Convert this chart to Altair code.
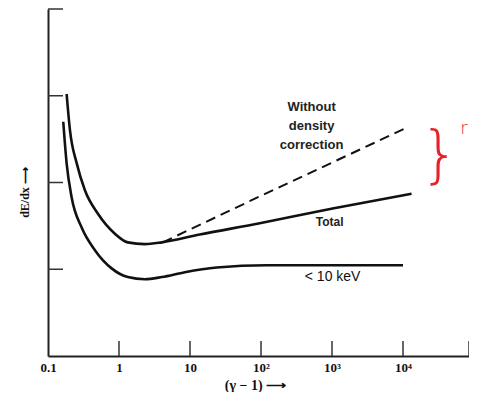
import altair as alt
import pandas as pd

# ---- data ----
total_x = [0.183, 0.204, 0.254, 0.331, 0.505, 0.875, 1.33, 2.31, 4.01, 13.7, 96, 1020, 13200]
total_y = [3.02, 2.60, 2.22, 1.91, 1.64, 1.41, 1.31, 1.29, 1.31, 1.40, 1.53, 1.70, 1.87]

low_x = [0.164, 0.183, 0.215, 0.298, 0.458, 0.787, 1.33, 2.31, 4.01, 8.45, 23.8, 120, 10000]
low_y = [2.70, 2.22, 1.83, 1.48, 1.22, 1.01, 0.91, 0.885, 0.91, 0.966, 1.02, 1.046, 1.046]

nodens_x = [4.14, 96, 10500]
nodens_y = [1.31, 1.84, 2.62]

x_max = 85000
x_tick_values = [0.1, 1, 10, 100, 1000, 10000]
x_tick_labels = ["0.1", "1", "10", "10²", "10³", "10⁴"]
x_inner_ticks = [1, 10, 100, 1000, 10000, x_max]
y_inner_ticks = [1, 2, 3, 4]

label_nodens = ["Without", "density", "correction"]
label_total = "Total"
label_low = "< 10 keV"

W, H = 421, 347

# ---- frames ----
df_total = pd.DataFrame({"x": total_x, "y": total_y})
df_low = pd.DataFrame({"x": low_x, "y": low_y})
df_nodens = pd.DataFrame({"x": nodens_x, "y": nodens_y})
df_xt = pd.DataFrame({"x": x_inner_ticks})
df_yt = pd.DataFrame({"y": y_inner_ticks})

expr = "''"
for v, lab in reversed(list(zip(x_tick_values, x_tick_labels))):
    expr = f"abs(datum.value - {v}) < {v}*0.01 ? '{lab}' : ({expr})"

X = alt.X(
    "x:Q",
    scale=alt.Scale(type="log", domain=[0.1, x_max], nice=False),
    axis=alt.Axis(
        values=x_tick_values,
        labelExpr=expr,
        ticks=False,
        grid=False,
        domainColor="#222",
        domainWidth=2,
        labelFont="Liberation Serif",
        labelFontWeight="bold",
        labelFontSize=13,
        labelColor="#111",
        labelPadding=5,
        labelFlush=False,
        labelOverlap=False,
        title="(γ − 1) ⟶",
        titleFont="Liberation Serif",
        titleFontSize=14,
        titleFontWeight="bold",
        titleColor="#111",
        titleX=207,
        titleY=29,
        titleAlign="center",
        titleBaseline="middle",
    ),
)
Y = alt.Y(
    "y:Q",
    scale=alt.Scale(domain=[0, 4], nice=False),
    axis=alt.Axis(
        labels=False,
        ticks=False,
        grid=False,
        domainColor="#222",
        domainWidth=2,
        title="dE/dx ⟶",
        titleFont="Liberation Serif",
        titleFontSize=12,
        titleFontWeight="bold",
        titleColor="#111",
        titleX=-24,
        titleY=183,
        titleAlign="center",
        titleBaseline="middle",
        titleAngle=270,
    ),
)

total = alt.Chart(df_total).mark_line(color="#111", strokeWidth=2.6, interpolate="monotone").encode(x=X, y=Y)
low = alt.Chart(df_low).mark_line(color="#111", strokeWidth=2.6, interpolate="monotone").encode(x=X, y=Y)
nodens = alt.Chart(df_nodens).mark_line(color="#111", strokeWidth=2, strokeDash=[10, 6]).encode(x=X, y=Y)

xt = alt.Chart(df_xt).mark_rule(color="#333", strokeWidth=1.5).encode(
    x=X, y=alt.value(H), y2=alt.value(H - 15)
)
yt = alt.Chart(df_yt).mark_rule(color="#333", strokeWidth=1.5).encode(
    y=Y, x=alt.value(0), x2=alt.value(15)
)

df_t1 = pd.DataFrame({"x": [516], "y": [2.874], "t": [label_nodens]})
t1 = alt.Chart(df_t1).mark_text(
    font="Liberation Sans", fontSize=13, fontWeight="bold", color="#222",
    lineHeight=19, align="center", baseline="middle"
).encode(x=X, y=Y, text="t")

df_t2 = pd.DataFrame({"x": [925], "y": [1.54], "t": [label_total]})
t2 = alt.Chart(df_t2).mark_text(
    font="Liberation Sans", fontSize=12, fontWeight="bold", color="#222",
    align="center", baseline="middle"
).encode(x=X, y=Y, text="t")

df_t3 = pd.DataFrame({"x": [1020], "y": [0.91], "t": [label_low]})
t3 = alt.Chart(df_t3).mark_text(
    font="Liberation Sans", fontSize=14, color="#111",
    align="center", baseline="middle"
).encode(x=X, y=Y, text="t")

df_red = pd.DataFrame({"x": [33000, 72300], "y": [2.31, 2.62], "t": ["}", "r"]})
red = alt.Chart(df_red).mark_text(
    font="DejaVu Sans", color="#e8202a", align="center", baseline="middle", fontWeight="lighter"
).encode(x=X, y=Y, text="t", size=alt.Size("t:N", scale=alt.Scale(domain=["}", "r"], range=[62, 18]), legend=None))

chart = alt.layer(total, low, nodens, xt, yt, t1, t2, t3, red).properties(
    width=W,
    height=H,
    autosize=alt.AutoSizeParams(type="none"),
    padding={"left": 40, "top": 1, "right": 0, "bottom": 36},
).configure_view(stroke=None)

chart.save("out.html", embed_options={"renderer": "svg", "actions": False})
